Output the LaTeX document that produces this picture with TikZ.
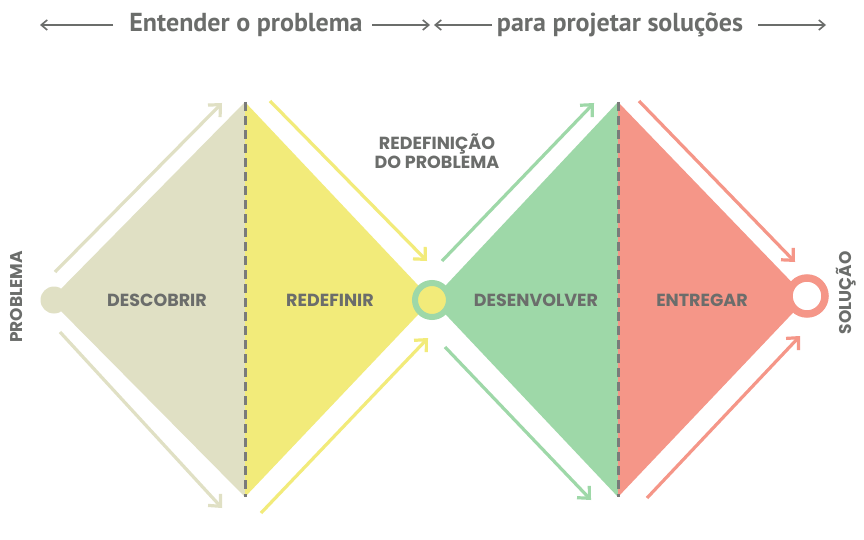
\documentclass[tikz,border=0pt]{standalone}
\usepackage{fontspec}
\usetikzlibrary{arrows.meta}
\newfontfamily\headfont{PT Sans}[BoldFont={PT Sans Bold}]
\newfontfamily\labfont{Poppins}[BoldFont={Poppins Bold}]
\definecolor{txt}{HTML}{6B6D6B}
\definecolor{beige}{HTML}{E0E0C4}
\definecolor{yel}{HTML}{F2EB7A}
\definecolor{grn}{HTML}{9ED8A8}
\definecolor{sal}{HTML}{F59688}
\definecolor{divgray}{HTML}{7A7B7A}
\tikzset{
  x=1pt, y=-1pt,
  flowarrow/.style={line width=3.2pt, -{Straight Barb[length=9pt,width=17pt,line width=3.2pt]}},
  headarrow/.style={txt, line width=1.6pt, -{Straight Barb[length=6pt,width=10pt,line width=1.6pt]}},
  stagelabel/.style={txt, font=\labfont\bfseries\fontsize{17.5}{19}\selectfont, inner sep=0pt},
  headlabel/.style={txt, font=\headfont\bfseries\fontsize{26}{30}\selectfont, inner sep=0pt},
  divider/.style={draw=divgray, line width=3pt, dash pattern=on 9pt off 5pt},
}
\begin{document}
\begin{tikzpicture}
\useasboundingbox (0,0) rectangle (864,540);
\fill[white] (0,0) rectangle (864,540);

% header
\node[headlabel] (h1) at (246,25) {Entender o problema};
\node[headlabel] (h2) at (620,25) {para projetar soluções};
\coordinate (ha) at (40,25);
\coordinate (hb) at (113,25);
\coordinate (hc0) at (372,25);
\coordinate (hc) at (430,25);
\coordinate (hd0) at (492,25);
\coordinate (hd) at (434,25);
\coordinate (he0) at (758,25);
\coordinate (he) at (826,25);
\draw[headarrow] (hb) -- (ha);
\draw[headarrow] (hc0) -- (hc);
\draw[headarrow] (hd0) -- (hd);
\draw[headarrow] (he0) -- (he);

% diamond vertices
\coordinate (L) at (50,300);
\coordinate (T1) at (245,102);
\coordinate (B1) at (245,497);
\coordinate (M) at (432,300);
\coordinate (T2) at (618,102);
\coordinate (B2) at (618,497);
\coordinate (R) at (807,298);

\fill[beige] (L) -- (T1) -- (B1) -- cycle;
\fill[yel] (T1) -- (M) -- (B1) -- cycle;
\fill[grn] (M) -- (T2) -- (B2) -- cycle;
\fill[sal] (T2) -- (R) -- (B2) -- cycle;

\draw[divider] (T1) -- (B1);
\draw[divider] (T2) -- (B2);

% flow arrows
\coordinate (a1s) at (55,272);  \coordinate (a1e) at (222,103);
\coordinate (a2s) at (60,332);  \coordinate (a2e) at (222,508);
\coordinate (a3s) at (270,101); \coordinate (a3e) at (427,261);
\coordinate (a4s) at (261,513); \coordinate (a4e) at (428,338);
\coordinate (a5s) at (442,261); \coordinate (a5e) at (594,103);
\coordinate (a6s) at (445,347); \coordinate (a6e) at (591,500);
\coordinate (a7s) at (639,101); \coordinate (a7e) at (795,262);
\coordinate (a8s) at (647,498); \coordinate (a8e) at (800,336);
\draw[flowarrow, beige] (a1s) -- (a1e);
\draw[flowarrow, beige] (a2s) -- (a2e);
\draw[flowarrow, yel] (a3s) -- (a3e);
\draw[flowarrow, yel] (a4s) -- (a4e);
\draw[flowarrow, grn] (a5s) -- (a5e);
\draw[flowarrow, grn] (a6s) -- (a6e);
\draw[flowarrow, sal] (a7s) -- (a7e);
\draw[flowarrow, sal] (a8s) -- (a8e);

% circles
\fill[beige] (54,300) circle[radius=13.5];
\draw[grn, fill=yel, line width=6pt] (432,300) circle[radius=17];
\draw[sal, fill=white, line width=7.5pt] (807,296) circle[radius=18];

% labels
\node[stagelabel] (d1) at (157,300) {DESCOBRIR};
\node[stagelabel] (d2) at (330,300) {REDEFINIR};
\node[stagelabel] (d3) at (536,300) {DESENVOLVER};
\node[stagelabel] (d4) at (702,300) {ENTREGAR};
\node[stagelabel, align=center] (rp) at (437,151) {REDEFINIÇÃO\\DO PROBLEMA};
\node[stagelabel, rotate=90, font=\labfont\bfseries\fontsize{17}{18}\selectfont] (pb) at (17,297) {PROBLEMA};
\node[stagelabel, rotate=90, font=\labfont\bfseries\fontsize{17}{18}\selectfont] (sl) at (846,293) {SOLUÇÃO};
\end{tikzpicture}
\end{document}
